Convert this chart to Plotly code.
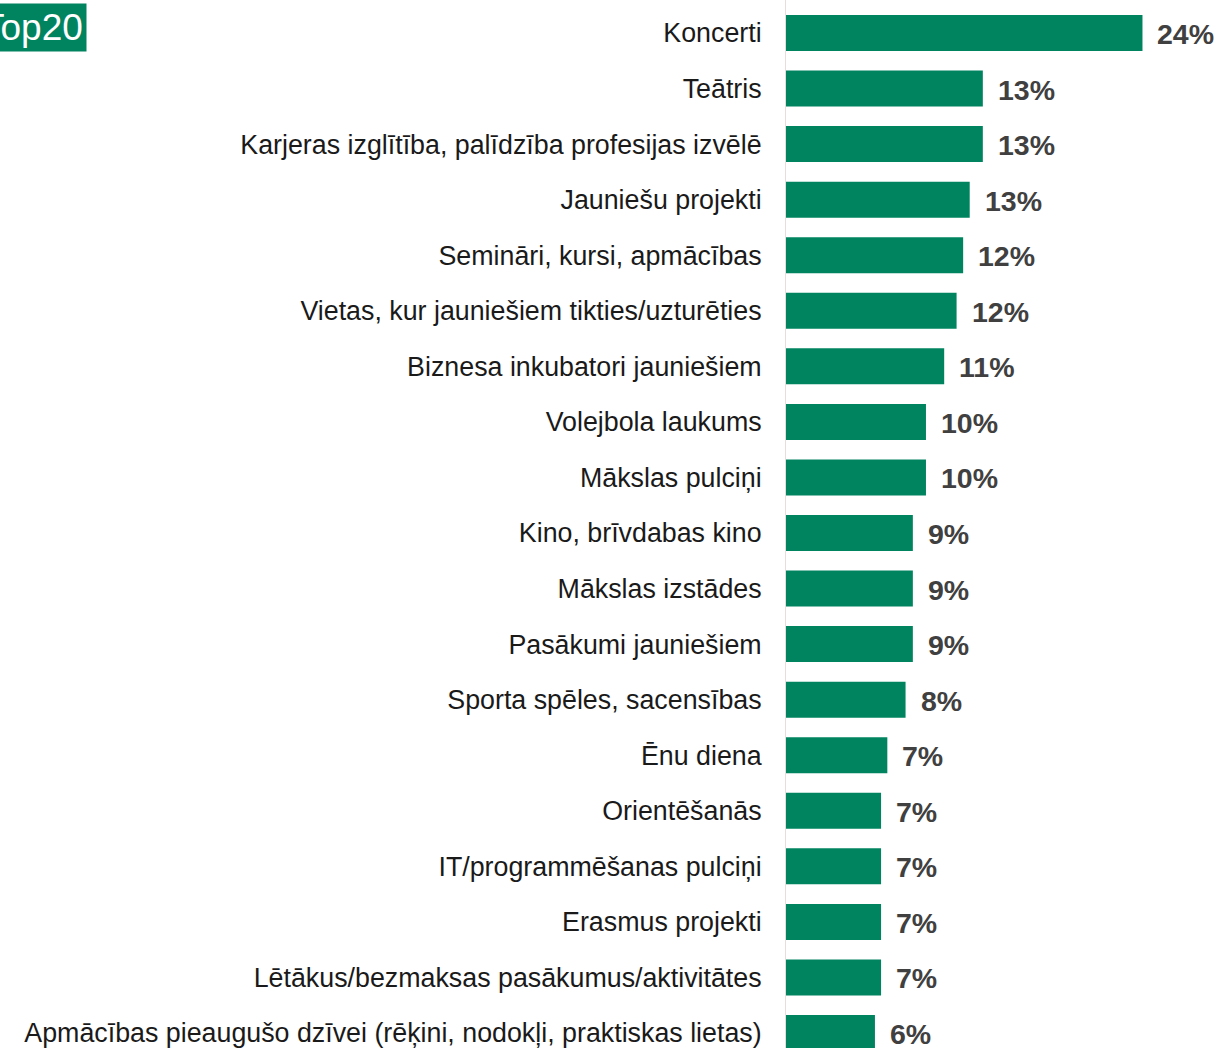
import plotly.graph_objects as go

categories = [
    "Koncerti",
    "Teātris",
    "Karjeras izglītība, palīdzība profesijas izvēlē",
    "Jauniešu projekti",
    "Semināri, kursi, apmācības",
    "Vietas, kur jauniešiem tikties/uzturēties",
    "Biznesa inkubatori jauniešiem",
    "Volejbola laukums",
    "Mākslas pulciņi",
    "Kino, brīvdabas kino",
    "Mākslas izstādes",
    "Pasākumi jauniešiem",
    "Sporta spēles, sacensības",
    "Ēnu diena",
    "Orientēšanās",
    "IT/programmēšanas pulciņi",
    "Erasmus projekti",
    "Lētākus/bezmaksas pasākumus/aktivitātes",
    "Apmācības pieaugušo dzīvei (rēķini, nodokļi, praktiskas lietas)",
]
values = [24.45, 13.5, 13.5, 12.6, 12.15, 11.7, 10.85, 9.6, 9.6, 8.7, 8.7, 8.7,
          8.2, 6.95, 6.52, 6.52, 6.52, 6.52, 6.1]
value_labels = ["24%", "13%", "13%", "13%", "12%", "12%", "11%", "10%", "10%",
                "9%", "9%", "9%", "8%", "7%", "7%", "7%", "7%", "7%", "6%"]
title_text = "Top20"

GREEN = "#00845F"
W, H = 1221, 1048
L = 786
plot_w = W - L
px_per_unit = 14.58
pitch = 55.56

idx = list(range(len(categories)))

fig = go.Figure()
fig.add_trace(go.Bar(
    y=idx, x=values, orientation="h",
    marker=dict(color=GREEN, line=dict(width=0)),
    width=36 / pitch,
    hoverinfo="skip",
))

for i, (v, lab) in enumerate(zip(values, value_labels)):
    fig.add_annotation(
        x=v, y=i, xref="x", yref="y", text="<b>" + lab + "</b>", showarrow=False,
        xanchor="left", yanchor="middle", xshift=13, yshift=-1,
        font=dict(family="Liberation Sans, Arial", size=28.5, color="#404040"),
    )

# title box
fig.add_annotation(
    x=(-22 - L) / plot_w, y=1 - 3 / H, xref="paper", yref="paper",
    xanchor="left", yanchor="top", showarrow=False,
    text=title_text, bgcolor=GREEN, borderpad=3,
    font=dict(family="Liberation Sans, Arial", size=37, color="white"),
)

fig.update_layout(
    width=W, height=H,
    margin=dict(l=L, r=0, t=0, b=0),
    paper_bgcolor="white", plot_bgcolor="white",
    showlegend=False,
    xaxis=dict(range=[0, plot_w / px_per_unit], visible=False, fixedrange=True),
    yaxis=dict(
        tickmode="array", tickvals=idx, ticktext=categories,
        range=[18 + 15 / pitch, -33 / pitch],
        showline=True, linecolor="#eadcdc", linewidth=1,
        showgrid=False, zeroline=False, ticks="",
        ticklabelstandoff=18,
        ticklabeloverflow="allow",
        tickfont=dict(family="Liberation Sans, Arial", size=26.8, color="#1a1a1a"),
    ),
)

fig.write_html("out.html")
